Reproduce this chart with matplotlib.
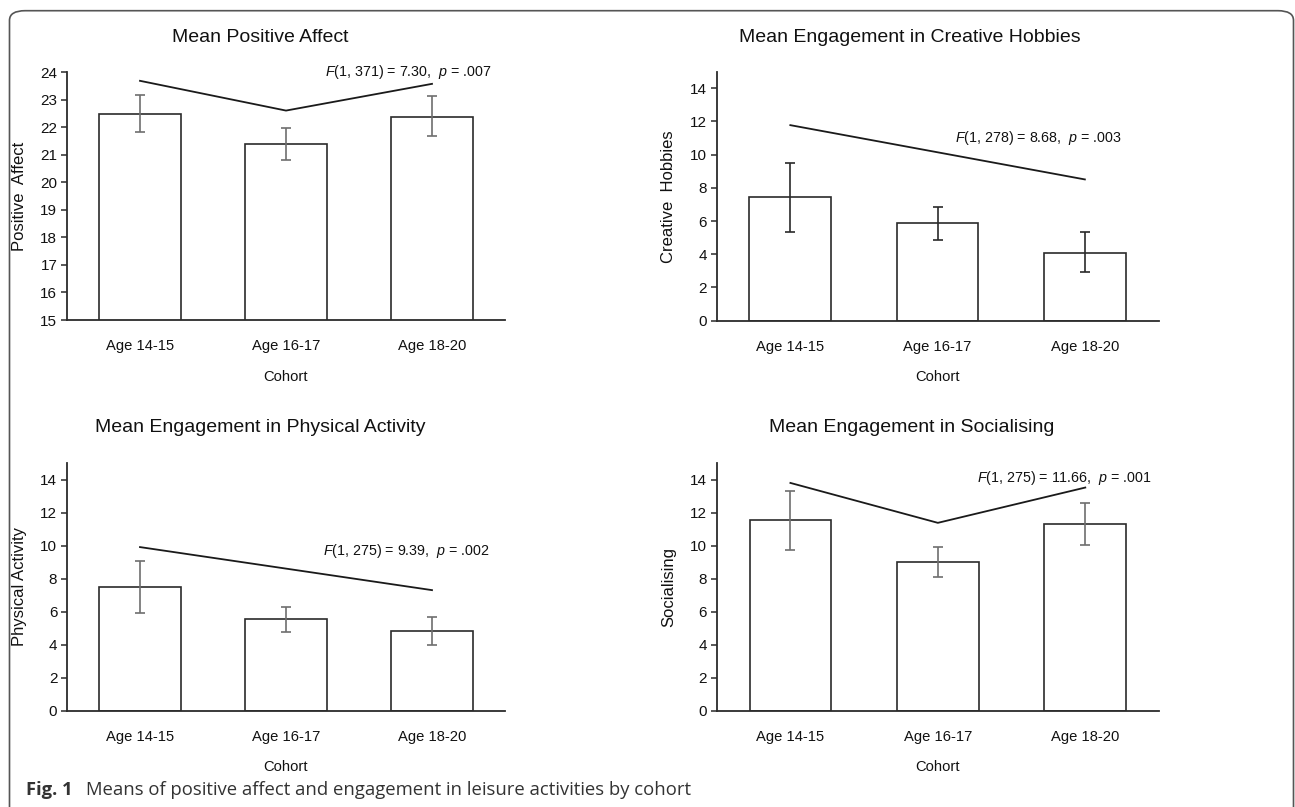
import matplotlib
matplotlib.use("Agg")
import matplotlib.pyplot as plt
from matplotlib.patches import FancyBboxPatch

plt.rcParams['font.family'] = ['Liberation Sans', 'DejaVu Sans']
plt.rcParams['mathtext.fontset'] = 'custom'
plt.rcParams['mathtext.rm'] = 'Liberation Sans'
plt.rcParams['mathtext.it'] = 'Liberation Sans:italic'

# ---------------- data ----------------
categories = ["Age 14-15", "Age 16-17", "Age 18-20"]

pa_means = [22.47, 21.40, 22.37]
pa_lo = [21.84, 20.80, 21.69]
pa_hi = [23.16, 21.98, 23.12]
pa_trend_x = [0, 1, 2]
pa_trend_y = [23.68, 22.60, 23.57]

ch_means = [7.44, 5.89, 4.08]
ch_lo = [5.32, 4.84, 2.93]
ch_hi = [9.48, 6.86, 5.32]
ch_trend_x = [0, 2]
ch_trend_y = [11.78, 8.51]

pac_means = [7.53, 5.57, 4.86]
pac_lo = [5.93, 4.76, 3.96]
pac_hi = [9.08, 6.31, 5.71]
pac_trend_x = [0, 2]
pac_trend_y = [9.92, 7.31]

so_means = [11.55, 9.00, 11.29]
so_lo = [9.74, 8.11, 10.04]
so_hi = [13.34, 9.90, 12.59]
so_trend_x = [0, 1, 2]
so_trend_y = [13.81, 11.39, 13.53]

titles = ["Mean Positive Affect", "Mean Engagement in Creative Hobbies",
          "Mean Engagement in Physical Activity", "Mean Engagement in Socialising"]
ylabels = ["Positive  Affect", "Creative  Hobbies", "Physical Activity", "Socialising"]
stats = [r"$\mathit{F}$(1, 371) = 7.30,  $\mathit{p}$ = .007",
         r"$\mathit{F}$(1, 278) = 8.68,  $\mathit{p}$ = .003",
         r"$\mathit{F}$(1, 275) = 9.39,  $\mathit{p}$ = .002",
         r"$\mathit{F}$(1, 275) = 11.66,  $\mathit{p}$ = .001"]
xlabel = "Cohort"
caption_bold = "Fig. 1"
caption_text = "Means of positive affect and engagement in leisure activities by cohort"

# ---------------- layout ----------------
W, H = 1295, 807
fig = plt.figure(figsize=(W / 100, H / 100), dpi=100)

def ax_at(left, right, top, bottom):
    return fig.add_axes([left / W, 1 - bottom / H, (right - left) / W, (bottom - top) / H])

panels = [
    dict(box=(67, 505, 72, 320), means=pa_means, lo=pa_lo, hi=pa_hi, tx=pa_trend_x, ty=pa_trend_y,
         ylim=(15, 24), yticks=range(15, 25), ecol='#6e6e6e', stat_pos=(0.970, 1.000),
         title_px=(260, 37)),
    dict(box=(716.7, 1158.5, 71.7, 320.7), means=ch_means, lo=ch_lo, hi=ch_hi, tx=ch_trend_x, ty=ch_trend_y,
         ylim=(0, 15), yticks=range(0, 15, 2), ecol='#2a2a2a', stat_pos=(0.918, 0.734),
         title_px=(910, 38)),
    dict(box=(67, 505, 463.3, 710.7), means=pac_means, lo=pac_lo, hi=pac_hi, tx=pac_trend_x, ty=pac_trend_y,
         ylim=(0, 15), yticks=range(0, 15, 2), ecol='#6e6e6e', stat_pos=(0.966, 0.647),
         title_px=(260, 428)),
    dict(box=(716.7, 1159, 463.3, 710.7), means=so_means, lo=so_lo, hi=so_hi, tx=so_trend_x, ty=so_trend_y,
         ylim=(0, 15), yticks=range(0, 15, 2), ecol='#6e6e6e', stat_pos=(0.983, 0.942),
         title_px=(912, 428)),
]

edge = '#2b2b2b'
for i, p in enumerate(panels):
    ax = ax_at(*p['box'])
    x = list(range(len(categories)))
    yerr = [[m - l for m, l in zip(p['means'], p['lo'])],
            [h - m for m, h in zip(p['means'], p['hi'])]]
    ax.bar(x, p['means'], width=0.555, color='white', edgecolor=edge, linewidth=1.2, zorder=2)
    ax.errorbar(x, p['means'], yerr=yerr, fmt='none', ecolor=p['ecol'], elinewidth=1.2,
                capsize=3.5, capthick=1.2, zorder=3)
    ax.plot(p['tx'], p['ty'], color='#1a1a1a', linewidth=1.3, zorder=4, clip_on=False)
    ax.set_xlim(-0.5, 2.5)
    ax.set_ylim(*p['ylim'])
    ax.set_yticks(list(p['yticks']))
    ax.set_xticks(x)
    ax.set_xticklabels(categories, fontsize=10.6, color='#111111')
    ax.tick_params(axis='x', length=0, pad=14)
    ax.tick_params(axis='y', length=4, width=1.1, color=edge, labelsize=11, pad=3,
                   labelcolor='#111111')
    for s in ['top', 'right']:
        ax.spines[s].set_visible(False)
    for s in ['left', 'bottom']:
        ax.spines[s].set_color(edge)
        ax.spines[s].set_linewidth(1.3)
    ax.set_ylabel(ylabels[i], fontsize=12, color='#111111')
    ax.yaxis.set_label_coords(-0.092, 0.5)
    ax.set_xlabel(xlabel, fontsize=10.6, color='#111111')
    ax.xaxis.set_label_coords(0.5, -0.2)
    ax.text(p['stat_pos'][0], p['stat_pos'][1], stats[i], transform=ax.transAxes,
            ha='right', va='center', fontsize=10.3, color='#111111')
    fig.text(p['title_px'][0] / W, 1 - p['title_px'][1] / H, titles[i], ha='center', va='center',
             fontsize=14, color='#111111')

# caption
t1 = fig.text(26 / W, 1 - 795 / H, caption_bold, fontsize=13.2, fontweight='bold',
              family=['Open Sans', 'DejaVu Sans'], color='#333333', va='baseline', ha='left')
fig.canvas.draw()
bb = t1.get_window_extent()
fig.text((bb.x1 + 13) / W, 1 - 795 / H, caption_text, fontsize=13.3,
         family=['Open Sans', 'DejaVu Sans'], color='#333333', va='baseline', ha='left')

# rounded frame
frame = FancyBboxPatch((9.5 / W, -0.05), (1293.5 - 9.5) / W, (H + 0.05 * H - 10.7) / H,
                       boxstyle="round,pad=0,rounding_size=0.012", transform=fig.transFigure,
                       fill=False, edgecolor='#555555', linewidth=1.2, clip_on=False)
fig.patches.append(frame)

fig.savefig("out.png", dpi=100)
